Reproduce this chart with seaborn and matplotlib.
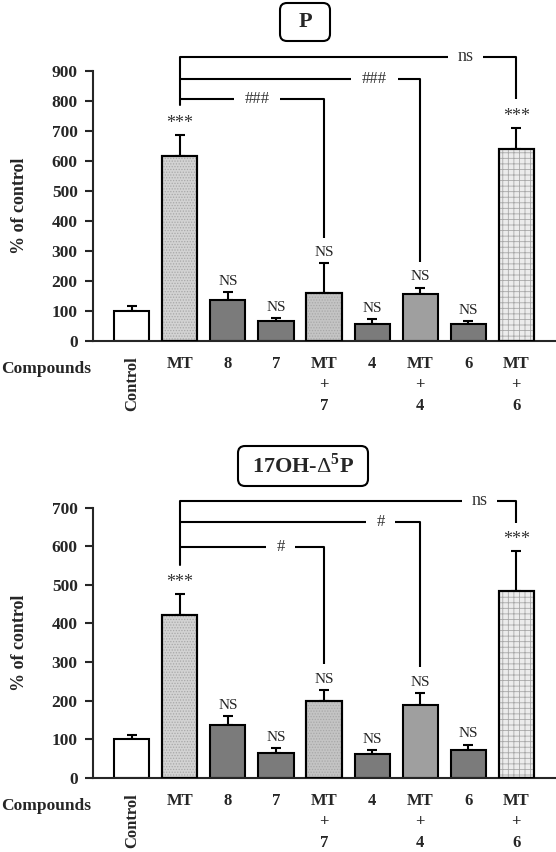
import matplotlib
matplotlib.use("Agg")
import matplotlib.pyplot as plt
import seaborn as sns
import numpy as np
from matplotlib.patches import FancyBboxPatch

# =============================================================================
# DATA
# =============================================================================

compounds = ["Control", "MT", "8", "7", "MT+7", "4", "MT+4", "6", "MT+6"]
tick_labels = ["Control", "MT", "8", "7", "MT\n+\n7", "4", "MT\n+\n4", "6", "MT\n+\n6"]

# P panel (% of control, mean and upper SEM)
p_mean = [100, 618, 137, 65, 160, 58, 155, 55, 640]
p_err = [18, 70, 25, 12, 100, 14, 23, 10, 70]
p_marks = ["", "***", "NS", "NS", "NS", "NS", "NS", "NS", "***"]

# 17OH-D5P panel
oh_mean = [100, 423, 137, 65, 200, 62, 188, 73, 485]
oh_err = [12, 53, 23, 11, 28, 10, 32, 13, 104]
oh_marks = ["", "***", "NS", "NS", "NS", "NS", "NS", "NS", "***"]

# comparison brackets: (label, target bar)
p_brackets = [("###", 4), ("###", 6), ("ns", 8)]
oh_brackets = [("#", 4), ("#", 6), ("ns", 8)]

bar_colors = {
    "Control": "#ffffff", "MT": "#d3d3d3", "8": "#7b7b7b", "7": "#7b7b7b",
    "MT+7": "#c4c4c4", "4": "#7b7b7b", "MT+4": "#9f9f9f", "6": "#7b7b7b",
    "MT+6": "#ececec",
}
hatches = {"MT": "......", "MT+7": "......", "MT+6": "+++"}

# =============================================================================
# STYLE
# =============================================================================

sns.set_style("ticks")
plt.rcParams["font.family"] = ["Liberation Serif", "DejaVu Serif"]
plt.rcParams["mathtext.fontset"] = "custom"
plt.rcParams["mathtext.rm"] = "Liberation Serif"
plt.rcParams["mathtext.bf"] = "Liberation Serif:bold"
plt.rcParams["hatch.linewidth"] = 0.6

fig = plt.figure(figsize=(5.56, 8.52), dpi=100)


def draw_panel(ax, means, errs, marks, brackets, ymax, ytop, bracket_y, gaps,
               ends, mt_bottom):
    x = np.arange(len(compounds))
    sns.barplot(x=compounds, y=means, hue=compounds, palette=bar_colors,
                width=0.73, edgecolor="black", linewidth=1.5, legend=False,
                ax=ax, zorder=2)
    # texture overlays
    for i, name in enumerate(compounds):
        if name in hatches:
            ax.bar(x[i], means[i], width=0.73, facecolor="none",
                   edgecolor="#a8a8a8", hatch=hatches[name], linewidth=0,
                   zorder=2.5)
            ax.bar(x[i], means[i], width=0.73, facecolor="none",
                   edgecolor="black", linewidth=1.5, zorder=2.6)
    ax.errorbar(x, means, yerr=[np.zeros(len(errs)), errs], fmt="none",
                ecolor="black", elinewidth=1.5, capsize=3.5, capthick=1.5,
                zorder=1.5)

    for i, m in enumerate(marks):
        if not m:
            continue
        top = means[i] + errs[i]
        if m == "***":
            ax.annotate(m, (x[i], top), xytext=(0, 2), textcoords="offset points",
                        ha="center", va="bottom", fontsize=13, color="#333333")
        else:
            ax.annotate(m, (x[i], top), xytext=(0, 3), textcoords="offset points",
                        ha="center", va="bottom", fontsize=11)

    # brackets from MT
    lw = 1.5
    ax.plot([1, 1], [mt_bottom, bracket_y[-1]], color="black", lw=lw)
    for (label, target), yb, (glo, ghi), yend in zip(brackets, bracket_y, gaps, ends):
        ax.plot([1, glo], [yb, yb], color="black", lw=lw, solid_capstyle="butt")
        ax.plot([ghi, target, target], [yb, yb, yend], color="black", lw=lw,
                solid_capstyle="butt")
        fs = 13 if label == "ns" else 12
        ax.text((glo + ghi) / 2, yb, label, ha="center", va="center",
                fontsize=fs, color="#333333")

    ax.set_xlim(-0.81, 8.83)
    ax.set_ylim(0, ytop)
    ax.set_yticks(np.arange(0, ymax + 1, 100))
    ax.set_yticklabels([str(v) for v in range(0, ymax + 1, 100)],
                       fontsize=12.5, fontweight="bold")
    ax.spines["left"].set_bounds(0, ymax)
    ax.spines["top"].set_visible(False)
    ax.spines["right"].set_visible(False)
    for s in ["left", "bottom"]:
        ax.spines[s].set_linewidth(1.5)
    ax.tick_params(axis="y", length=6, width=1.5, pad=5)
    ax.tick_params(axis="x", length=0, pad=11)
    ax.set_xticks(x)
    ax.set_xticklabels(tick_labels, fontsize=12, fontweight="bold",
                       va="top", linespacing=1.4)
    ax.get_xticklabels()[0].set_rotation(90)
    ax.set_xlabel("")
    ax.set_ylabel("")


# =============================================================================
# TOP PANEL: P
# =============================================================================

ax1 = fig.add_axes([93 / 556, 511 / 852, 463 / 556, 288 / 852])
draw_panel(ax1, p_mean, p_err, p_marks, p_brackets, ymax=900, ytop=960,
           bracket_y=[807, 873, 948],
           gaps=[(2.12, 3.08), (4.57, 5.53), (6.58, 7.31)],
           ends=[343, 263, 807], mt_bottom=787)

# =============================================================================
# BOTTOM PANEL: 17OH-D5P
# =============================================================================

ax2 = fig.add_axes([93 / 556, 74.3 / 852, 463 / 556, 285.4 / 852])
draw_panel(ax2, oh_mean, oh_err, oh_marks, oh_brackets, ymax=700, ytop=740,
           bracket_y=[598, 663, 718],
           gaps=[(2.8, 3.39), (4.88, 5.47), (6.88, 7.6)],
           ends=[295, 288, 661], mt_bottom=551)

# =============================================================================
# LABELS AND TITLE BOXES
# =============================================================================

for ypx in [206, 643]:
    fig.text(20 / 556, 1 - ypx / 852, "% of control", rotation=90,
             ha="center", va="center", fontsize=13, fontweight="bold")
for ypx in [369, 806]:
    fig.text(0.002, 1 - ypx / 852, "Compounds", ha="left", va="center",
             fontsize=12.5, fontweight="bold")

for (x0, y0, w, h), label in [((2.80, 8.11, 0.50, 0.38), "P"),
                              ((2.38, 3.66, 1.30, 0.40),
                               r"17OH-$\Delta^{\mathbf{5}}$P")]:
    box = FancyBboxPatch((x0, y0), w, h, boxstyle="round,pad=0,rounding_size=0.07",
                         transform=fig.dpi_scale_trans, facecolor="white",
                         edgecolor="black", linewidth=1.5)
    fig.add_artist(box)
    fig.text(x0 + w / 2, y0 + h / 2, label, transform=fig.dpi_scale_trans,
             ha="center", va="center", fontsize=16, fontweight="bold")

fig.savefig("out.png", dpi=100)
